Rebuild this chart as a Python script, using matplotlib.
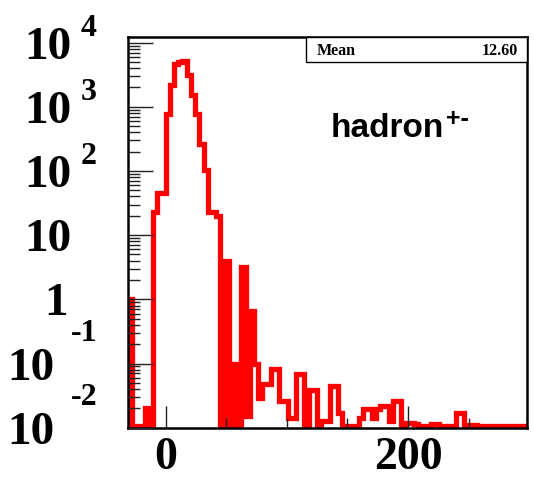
import matplotlib.pyplot as plt
import numpy as np
from matplotlib.ticker import LogLocator, NullFormatter

# bin contents, one bin every 3.47 units starting at -31.2
counts = [
    1.0, 0, 0, 0, 0.02, 0, 23, 45, 45, 760,
    2200, 4600, 5000, 5100, 3100, 1500, 760, 260, 105, 23,
    23, 20, 0, 4.0, 0, 0.1, 0, 3.2, 0.015, 0.65,
    0.1, 0.029, 0.048, 0.048, 0.082, 0.082, 0.026, 0.026, 0.0144, 0.0144,
    0.069, 0.069, 0, 0.039, 0.039, 0, 0.0128, 0.0128, 0.045, 0.045,
    0.017, 0, 0, 0, 0, 0.0144, 0.0196, 0.0196, 0.014, 0.0196,
    0.022, 0.022, 0.0128, 0.026, 0.026, 0, 0.012, 0.012, 0.0116, 0,
    0, 0, 0.0116, 0.0116, 0, 0, 0, 0, 0.017, 0.017,
    0, 0.0112, 0.0112, 0, 0, 0, 0, 0, 0, 0,
    0, 0, 0, 0, 0,
]
bin_width = 3.47
first_edge = -9 * bin_width

mean_value = 12.60
particle = "hadron"
charge = "+-"

x_major = [0, 200]
x_minor = [50, 100, 150, 250]
exponents = [-2, -1, 0, 1, 2, 3, 4]

xmin, xmax = -30.7, 298.2
ymin, ymax = 0.0107, 1.2e4

serif = "Liberation Serif"
sans = "Liberation Sans"

fig = plt.figure(figsize=(5.34, 4.83), dpi=100)
ax = fig.add_axes([0.2406, 0.1145, 0.7463, 0.8079])
ax.set_yscale("log")

edges = first_edge + bin_width * np.arange(len(counts) + 1)
vals = np.array(counts, dtype=float)
vals = np.where(vals > 0, vals, ymin)  # empty bins sit on the floor like in ROOT
ax.stairs(vals, edges, baseline=ymin, color="#ff0000", lw=3.8,
          joinstyle="miter", zorder=1)

ax.set_xlim(xmin, xmax)
ax.set_ylim(ymin, ymax)
ax.set_axisbelow(False)

for s in ax.spines.values():
    s.set_linewidth(1.8)
    s.set_color("black")

# x axis
ax.set_xticks(x_major)
ax.set_xticklabels([str(v) for v in x_major], fontsize=33,
                   fontfamily=serif, fontweight="bold")
ax.set_xticks(x_minor, minor=True)
ax.tick_params(axis="x", which="major", direction="in", length=16,
               width=1.0, color="#222222", pad=7)
ax.tick_params(axis="x", which="minor", direction="in", length=7.2,
               width=1.0, color="#222222")

# y axis, ROOT style labels drawn by hand
ax.set_yticks([10.0 ** e for e in exponents])
ax.yaxis.set_minor_locator(LogLocator(base=10, subs=np.arange(2, 10), numticks=30))
ax.yaxis.set_minor_formatter(NullFormatter())
ax.tick_params(axis="y", which="major", direction="in", length=18,
               width=1.0, color="#222222", labelleft=False)
ax.tick_params(axis="y", which="minor", direction="in", length=8.5,
               width=1.0, color="#222222")

big = dict(fontsize=34, fontfamily=serif, fontweight="bold", color="black")
small = dict(fontsize=23, fontfamily=serif, fontweight="bold", color="black")
for e in exponents:
    v = 10.0 ** e
    if e == 0:
        ax.annotate("1", xy=(68 / 534, v), xycoords=("figure fraction", "data"),
                    ha="right", va="center_baseline", **big)
    elif e == 1:
        ax.annotate("10", xy=(71 / 534, v), xycoords=("figure fraction", "data"),
                    ha="right", va="center_baseline", **big)
    elif e > 1:
        ax.annotate("10", xy=(71 / 534, v), xycoords=("figure fraction", "data"),
                    ha="right", va="center_baseline", **big)
        ax.annotate(str(e), xy=(81 / 534, v), xycoords=("figure fraction", "data"),
                    xytext=(0, 13), textcoords="offset points",
                    ha="left", va="center_baseline", **small)
    else:
        ax.annotate("10", xy=(54 / 534, v), xycoords=("figure fraction", "data"),
                    ha="right", va="center_baseline", **big)
        ax.annotate(str(e), xy=(71 / 534, v), xycoords=("figure fraction", "data"),
                    xytext=(0, 24), textcoords="offset points",
                    ha="left", va="center_baseline", **small)

# stats box
box = plt.Rectangle((0.4447, 0.9365), 0.5553, 0.0635, transform=ax.transAxes,
                    facecolor="white", edgecolor="black", lw=1.0, zorder=3,
                    clip_on=False)
ax.add_patch(box)
ax.text(0.4724, 0.965, "Mean", transform=ax.transAxes, ha="left",
        va="center", fontsize=11.5, fontfamily=serif, fontweight="bold", zorder=4)
ax.text(0.9767, 0.965, f"{mean_value:.2f}", transform=ax.transAxes, ha="right",
        va="center", fontsize=11.5, fontfamily=serif, fontweight="bold", zorder=4)

# particle label
ax.text(0.508, 0.7458, particle, transform=ax.transAxes, ha="left",
        va="baseline", fontsize=24, fontfamily=sans, fontweight="bold")
ax.text(0.797, 0.822, charge, transform=ax.transAxes, ha="left",
        va="top", fontsize=18, fontfamily=sans, fontweight="bold")

fig.savefig("out.png", dpi=100)
